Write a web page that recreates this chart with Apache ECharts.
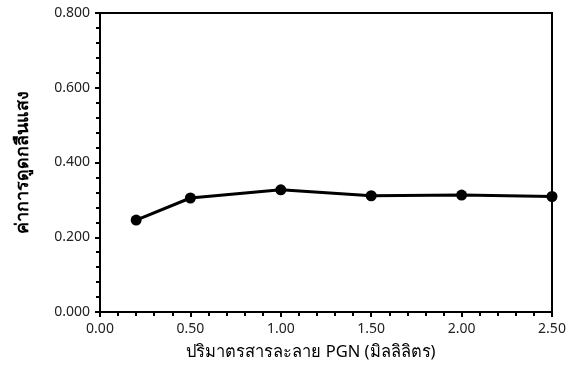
<!DOCTYPE html>
<html><head><meta charset="utf-8">
<script src="https://cdn.jsdelivr.net/npm/echarts@6/dist/echarts.min.js"></script>
<style>html,body{margin:0;padding:0;background:#fff}#c{width:579px;height:379px}</style>
</head><body><div id="c"></div>
<script>
const volumes = [0.2, 0.5, 1.0, 1.5, 2.0, 2.5];
const absorbance = [0.246, 0.305, 0.327, 0.311, 0.313, 0.309];
const xTitle = 'ปริมาตรสารละลาย PGN (มิลลิลิตร)';
const yTitle = 'ค่าการดูดกลืนแสง';

const chart = echarts.init(document.getElementById('c'));
const font = '"Noto Sans", sans-serif';
chart.setOption({
  animation: false,
  backgroundColor: '#fff',
  grid: { left: 100, right: 27, top: 13, bottom: 67, show: true, borderColor: '#000', borderWidth: 2, backgroundColor: 'transparent' },
  xAxis: {
    type: 'value', min: 0, max: 2.5, interval: 0.5,
    name: xTitle, nameLocation: 'middle', nameGap: 32,
    nameTextStyle: { color: '#000', fontSize: 16.5, fontFamily: font, padding: [0, 30, 0, 0] },
    axisLine: { show: true, lineStyle: { color: '#000', width: 2 } },
    axisTick: { show: true, inside: false, length: 5, lineStyle: { color: '#000', width: 2 } },
    minorTick: { show: true, splitNumber: 5, length: 4, lineStyle: { color: '#000', width: 2 } },
    splitLine: { show: false },
    axisLabel: { color: '#222', fontSize: 14, fontFamily: font, margin: 10, formatter: v => v.toFixed(2) }
  },
  yAxis: {
    type: 'value', min: 0, max: 0.8, interval: 0.2,
    name: yTitle, nameLocation: 'middle', nameGap: 68, nameRotate: 90,
    nameTextStyle: { color: '#000', fontSize: 18, fontWeight: 'bold', fontFamily: font },
    axisLine: { show: true, lineStyle: { color: '#000', width: 2 } },
    axisTick: { show: true, inside: false, length: 5, lineStyle: { color: '#000', width: 2 } },
    minorTick: { show: true, splitNumber: 5, length: 4, lineStyle: { color: '#000', width: 2 } },
    splitLine: { show: false },
    axisLabel: { color: '#222', fontSize: 14, fontFamily: font, margin: 10, formatter: v => v.toFixed(3) }
  },
  series: [{
    type: 'line', data: volumes.map((v, i) => [v, absorbance[i]]),
    symbol: 'circle', symbolSize: 11,
    lineStyle: { color: '#000', width: 3 },
    itemStyle: { color: '#000' }
  }]
});
</script></body></html>
